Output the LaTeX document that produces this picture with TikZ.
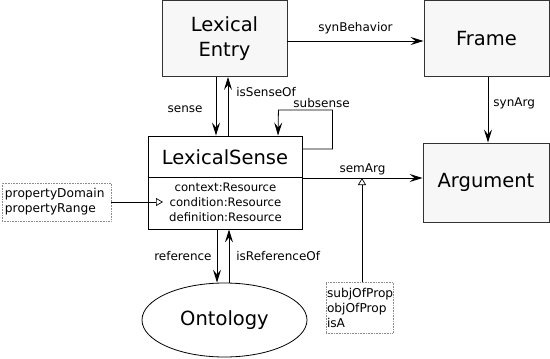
\documentclass[tikz,border=0pt]{standalone}
\usepackage{fontspec}
\setmainfont{DejaVu Sans}
\usetikzlibrary{arrows.meta, shapes.geometric}
\definecolor{boxfill}{RGB}{247,247,247}
\definecolor{boxline}{RGB}{51,51,51}
\definecolor{noteline}{RGB}{140,140,140}

\begin{document}
\begin{tikzpicture}[x=1pt, y=-1pt]
  \tikzset{
    concept/.style={
      draw=boxline,
      fill=boxfill,
      line width=0.9pt,
      inner sep=0pt,
      align=center,
      font=\fontsize{19.5}{25}\selectfont
    },
    sensebox/.style={
      draw=black,
      fill=white,
      line width=0.9pt,
      minimum width=154pt,
      minimum height=93pt
    },
    note/.style={
      draw=noteline,
      densely dotted,
      line width=0.6pt,
      align=left,
      font=\fontsize{12.2}{15}\selectfont
    },
    edgetext/.style={
      font=\fontsize{12}{15}\selectfont,
      inner sep=2pt
    },
    rel/.style={
      draw=black,
      line width=0.8pt,
      -{Stealth[length=13pt, width=8pt, inset=5pt]}
    },
    subprop/.style={
      draw=black,
      line width=0.7pt,
      -{Triangle[open, length=7pt, width=8pt]}
    }
  }
  \useasboundingbox (0,0) rectangle (550,359);

  % Main concepts
  \node[concept, minimum width=125pt, minimum height=76pt] at (224.5, 38.5) (entry) {Lexical\\Entry};
  \node[concept, minimum width=125pt, minimum height=76pt] at (486.5, 38.5) (frame) {Frame};
  \node[concept, minimum width=126pt, minimum height=79pt] at (486, 182.5) (argument) {Argument};

  % The sense with its attributes
  \node[sensebox] at (225, 182.5) (sense) {};
  \node[font=\fontsize{19.5}{25}\selectfont] at (225, 157) (sensename) {LexicalSense};
  \draw[line width=0.6pt] (sense.west |- 0,177) -- (sense.east |- 0,177);
  \node[align=center, font=\fontsize{11.7}{15}\selectfont] at (225.5, 202) (senseattr)
    {context:Resource\\condition:Resource\\definition:Resource};

  \node[draw=black, line width=0.8pt, ellipse, minimum width=165pt, minimum height=74pt,
    font=\fontsize{19.5}{25}\selectfont] at (224.5, 320) (ontology) {Ontology};

  % Notes
  \node[note, text width=103pt, inner xsep=3pt, minimum height=38pt] at (56.5, 202) (propnote)
    {propertyDomain\\propertyRange};
  \node[note, text width=65pt, inner xsep=1pt, minimum height=51pt] at (359.5, 307.5) (relnote)
    {subjOfProp\\objOfProp\\isA};

  % Relations
  \draw[rel] ([yshift=-2.5pt]entry.east) -- ([yshift=-2.5pt]frame.west)
    node[midway, above=5pt, edgetext] {synBehavior};
  \draw[rel] ([xshift=-8.5pt]entry.south) -- ([xshift=-8.5pt]entry.south |- sense.north)
    node[pos=0.55, left=11pt, edgetext] {sense};
  \draw[rel] ([xshift=3.5pt]entry.south |- sense.north) -- ([xshift=3.5pt]entry.south)
    node[pos=0.75, right=6pt, edgetext] {isSenseOf};
  \draw[rel] ([yshift=33.5pt]sense.east) -- ++(30,0) -- ++(0,-39) -- ++(-54,0)
    node[pos=0.2, above, edgetext] {subsense} -- ([xshift=53pt]sense.north);
  \draw[rel] ([yshift=4.5pt]sense.east) -- ([yshift=4.5pt]argument.west)
    node[midway, above=1pt, edgetext] {semArg};
  \draw[rel] ([xshift=1.5pt]frame.south) -- ([xshift=1.5pt]frame.south |- argument.north)
    node[pos=0.4, right=3pt, edgetext] {synArg};
  \draw[rel] ([xshift=-8pt]sense.south) -- ([xshift=-8pt]sense.south |- ontology.north)
    node[midway, left=3pt, edgetext] {reference};
  \draw[rel] ([xshift=4pt]sense.south |- ontology.north) -- ([xshift=4pt]sense.south)
    node[midway, right=5pt, edgetext] {isReferenceOf};

  % Sub-property links
  \coordinate (semjoin) at (362, 178);
  \coordinate (condjoin) at (163, 202);
  \draw[subprop] (relnote.north -| semjoin) -- (semjoin);
  \draw[subprop] (propnote.east) -- (condjoin);
\end{tikzpicture}
\end{document}
